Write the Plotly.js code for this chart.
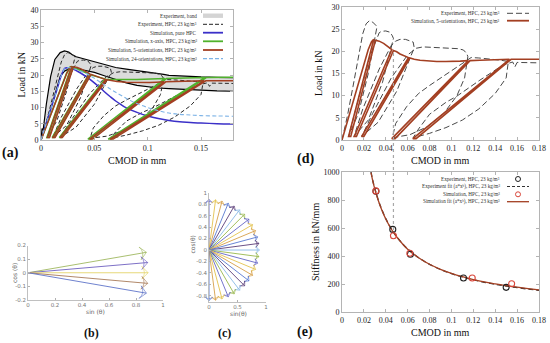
<!DOCTYPE html>
<html><head><meta charset="utf-8">
<script src="https://cdn.plot.ly/plotly-3.0.1.min.js"></script>
<style>html,body{margin:0;padding:0;background:#fff}#chart{width:550px;height:343px}</style>
</head><body><div id="chart"></div>
<script>
// ===== DATA =====
// Panel (a) – experiment band
const bandUpperX = [0, 0.001, 0.002, 0.005, 0.009, 0.013, 0.018, 0.022, 0.026, 0.029, 0.033, 0.04, 0.047, 0.055, 0.062, 0.07, 0.08, 0.09, 0.1, 0.11, 0.115, 0.12, 0.135, 0.15, 0.165, 0.18];
const bandUpperY = [0, 3.5, 3.0, 11, 19.5, 24.8, 26.9, 27.4, 27.1, 26.3, 25.6, 25.0, 24.5, 23.8, 23.0, 22.3, 21.8, 21.4, 21.0, 20.5, 20.2, 19.9, 19.6, 19.4, 19.3, 19.2];
const bandLowerX = [0, 0.005, 0.01, 0.014, 0.018, 0.022, 0.027, 0.033, 0.04, 0.05, 0.06, 0.07, 0.08, 0.09, 0.1, 0.11, 0.12, 0.135, 0.15, 0.165, 0.18];
const bandLowerY = [0, 5, 10.5, 15, 19.5, 21.2, 22.0, 22.0, 21.5, 20.8, 19.7, 18.6, 17.6, 16.8, 16.3, 16.0, 15.8, 15.5, 15.3, 15.1, 15.0];

// Experiment, HPC, 23 kg/m3 (cyclic, dashed) – panels (a) and (d)
const expX = [0, 0.005, 0.01, 0.015, 0.019, 0.022, 0.025, 0.028, 0.030, 0.032,
  0.024, 0.015, 0.006,
  0.014, 0.025, 0.034,
  0.036, 0.040, 0.044, 0.046, 0.047,
  0.037, 0.024, 0.011,
  0.019, 0.034, 0.045, 0.049,
  0.053, 0.058, 0.062, 0.065, 0.066,
  0.050, 0.033, 0.018,
  0.028, 0.045, 0.060, 0.068,
  0.074, 0.085, 0.100, 0.106, 0.111, 0.114, 0.115,
  0.112, 0.105, 0.093, 0.078, 0.062, 0.046,
  0.049, 0.059, 0.070, 0.080, 0.092, 0.102, 0.110, 0.118,
  0.125, 0.135, 0.145, 0.152,
  0.150, 0.140, 0.125, 0.110, 0.095, 0.080, 0.065,
  0.070, 0.080, 0.095, 0.105, 0.126, 0.147, 0.156,
  0.158, 0.160, 0.170, 0.180];
const expY = [0, 5.5, 12, 19, 24, 26.2, 26.9, 26.6, 26.0, 25.6,
  15, 6, 0.8,
  8, 18.5, 24.2,
  24.5, 24.6, 24.3, 23.5, 22.9,
  13, 4.5, 0.8,
  7, 16, 21.3, 22.3,
  22.7, 22.7, 22.4, 22.1, 20.8,
  11, 4, 0.8,
  6, 14, 19.2, 20.7,
  21.0, 20.9, 20.8, 20.6, 20.3, 19.5, 18.8,
  14, 10, 6, 3, 1.2, 0.5,
  3.7, 7.5, 10.5, 12.3, 14.3, 15.8, 17.2, 18.6,
  18.5, 18.3, 18.0, 17.7,
  14, 10.5, 7, 4.5, 2.8, 1.5, 0.5,
  2.5, 5.8, 8.5, 9.9, 13.5, 16.9, 17.6,
  16.5, 17.5, 17.4, 17.4];

// Simulation, 5-orientations (panels (a) and (d))
const sim5X = [0, 0.012, 0.024, 0.027, 0.029, 0.006, 0.008, 0.0305, 0.034, 0.038, 0.042, 0.0455, 0.0112, 0.0132, 0.047, 0.050, 0.053, 0.057, 0.0607, 0.018, 0.020, 0.062, 0.066, 0.0713, 0.080, 0.0865, 0.095, 0.1017, 0.108, 0.1154, 0.0455, 0.0485, 0.117, 0.126, 0.135, 0.145, 0.153, 0.0647, 0.0677, 0.1545, 0.165, 0.18];
const sim5Y = [0, 10.2, 20.4, 22.2, 22.7, 0.8, 0.8, 22.5, 22.3, 21.8, 21.1, 20.4, 0.8, 0.8, 20.2, 19.9, 19.4, 19.0, 18.6, 0.8, 0.8, 18.5, 18.2, 18.0, 17.8, 17.7, 17.7, 17.7, 17.8, 17.9, 0.3, 0.3, 17.9, 18.0, 18.1, 18.2, 18.2, 0.3, 0.3, 18.2, 18.2, 18.2];

// Simulation, x-axis
const simXaxisX = [0, 0.012, 0.024, 0.027, 0.0285, 0.0055, 0.0075, 0.030, 0.035, 0.040, 0.045, 0.0105, 0.0125, 0.0465, 0.052, 0.056, 0.060, 0.0172, 0.0192, 0.0615, 0.070, 0.080, 0.090, 0.100, 0.110, 0.116, 0.0440, 0.0470, 0.1175, 0.130, 0.140, 0.1535, 0.0630, 0.0660, 0.155, 0.165, 0.18];
const simXaxisY = [0, 10.3, 20.6, 22.4, 22.6, 0.8, 0.8, 22.4, 21.8, 21.0, 20.3, 0.8, 0.8, 20.1, 19.5, 19.1, 18.8, 0.8, 0.8, 18.7, 18.6, 18.6, 18.6, 18.7, 18.8, 18.9, 0.3, 0.3, 18.9, 19.0, 19.1, 19.2, 0.3, 0.3, 19.2, 19.3, 19.3];

// Simulation, pure HPC
const pureX = [0, 0.005, 0.01, 0.015, 0.019, 0.0225, 0.026, 0.03, 0.035, 0.04, 0.045, 0.05, 0.055, 0.06, 0.065, 0.07, 0.075, 0.08, 0.09, 0.1, 0.11, 0.12, 0.13, 0.14, 0.15, 0.165, 0.18];
const pureY = [0, 5.2, 10.4, 15.5, 19.8, 22.1, 22.2, 21.8, 21.0, 20.0, 18.9, 17.6, 16.2, 14.7, 13.3, 12.0, 10.9, 9.9, 8.5, 7.4, 6.6, 6.0, 5.6, 5.4, 5.2, 5.0, 4.9];

// Simulation, 24-orientations
const sim24X = [0, 0.005, 0.01, 0.015, 0.019, 0.0225, 0.026, 0.03, 0.035, 0.04, 0.045, 0.05, 0.055, 0.06, 0.065, 0.07, 0.08, 0.09, 0.1, 0.11, 0.12, 0.13, 0.14, 0.15, 0.165, 0.18];
const sim24Y = [0, 5.2, 10.4, 15.5, 19.8, 22.0, 22.3, 22.0, 21.5, 20.8, 20.0, 19.0, 17.9, 16.8, 15.7, 14.7, 12.8, 11.2, 10.0, 9.0, 8.3, 7.9, 7.7, 7.5, 7.4, 7.3];

// Panel (e) – stiffness
const stiffExpX = [0.031, 0.0464, 0.0625, 0.111, 0.150];
const stiffExpY = [862, 590, 412, 243, 176];
const stiffSimX = [0.031, 0.047, 0.062, 0.119, 0.155];
const stiffSimY = [865, 545, 420, 243, 202];
const fitX = [0.0265, 0.028, 0.03, 0.033, 0.036, 0.04, 0.045, 0.05, 0.055, 0.06, 0.07, 0.08, 0.09, 0.1, 0.11, 0.12, 0.13, 0.14, 0.15, 0.16, 0.17, 0.18];
const fitExpY = [1000, 943, 882, 804, 739, 667, 595, 537, 490, 450, 388, 340, 304, 274, 250, 230, 212, 198, 185, 174, 164, 155];
const fitSimY = [995, 940, 878, 800, 736, 664, 593, 536, 489, 449, 388, 341, 305, 276, 252, 232, 215, 201, 188, 177, 167, 158];

// marked unloading point linking (d) and (e)
const markCMOD = 0.047, markLoad = 20.3, markStiff = 585;

// Panel (b) – 5 orientations (arrow tips)
const bSin = [0.877, 0.887, 0.89, 0.887, 0.877];
const bCos = [0.15, 0.075, 0, -0.078, -0.15];
// Panel (c) – orientations (angle from the cos axis, degrees) and arrow length
const cThetaDeg = [0, 7.5, 15, 22.5, 30, 37.5, 45, 52.5, 60, 67.5, 75, 82.5, 90, 97.5, 105, 112.5, 120, 127.5, 135, 142.5, 150, 157.5, 165, 172.5, 180];
const cLength = 0.885;

// tick labels
const aTickVals = [0, 0.05, 0.1, 0.15], aTickText = ['0', '0.05', '0.1', '0.15'];
const loadTicks40 = [0, 5, 10, 15, 20, 25, 30, 35, 40];
const dTickVals = [0, 0.02, 0.04, 0.06, 0.08, 0.1, 0.12, 0.14, 0.16, 0.18];
const dTickText = ['0', '0.02', '0.04', '0.06', '0.08', '0.1', '0.12', '0.14', '0.16', '0.18'];
const loadTicks30 = [0, 5, 10, 15, 20, 25, 30];
const stiffTicks = [0, 200, 400, 600, 800, 1000];
const bXTicks = [0, 0.2, 0.4, 0.6, 0.8, 1], bXText = ['0', '0.2', '0.4', '0.6', '0.8', '1'];
const bYTicks = [-0.2, -0.1, 0, 0.1, 0.2], bYText = ['-0.2', '-0.1', '0', '0.1', '0.2'];
const cXTicks = [0, 0.5, 1], cXText = ['0', '0.5', '1'];
const cYTicks = [-0.8, -0.6, -0.4, -0.2, 0, 0.2, 0.4, 0.6, 0.8, 1];
const cYText = ['-0.8', '-0.6', '-0.4', '-0.2', '0', '0.2', '0.4', '0.6', '0.8', '1'];

// ===== STYLE =====
const W = 550, H = 343;
const SERIF = 'Liberation Serif, Times New Roman, serif';
const SANS = 'DejaVu Sans, Liberation Sans, sans-serif';
const BROWN = '#a33f22', GREEN = '#4fb22c', BLUE = '#3b30c8', LBLUE = '#7db3e6', EXPC = '#2a2a2a';
const bColors = ['#9fb860', '#6e60c0', '#e3d46a', '#a87a58', '#5f74c8'];
const cColors = ['#6565c6', '#e3c24e', '#d69f48', '#5878d0', '#5a3c78', '#88b8e6', '#98b84c'];
const px = v => v / W, py = v => 1 - v / H;

const dom = {
  a: {x: [px(41), px(233)], y: [py(140), py(10)]},
  b: {x: [px(28), px(163)], y: [py(300), py(245.5)]},
  c: {x: [px(209), px(266)], y: [py(301.6), py(192.7)]},
  d: {x: [px(342), px(539)], y: [py(140), py(7)]},
  e: {x: [px(342), px(539)], y: [py(312), py(172)]}
};

function gnuAxis(o) {
  return Object.assign({showline: true, linecolor: '#b4b4b4', linewidth: 1, mirror: 'ticks', ticks: 'inside',
    ticklen: 3, tickcolor: '#b4b4b4', tickfont: {family: SERIF, size: 8, color: '#222'},
    showgrid: false, zeroline: false, fixedrange: true, tickmode: 'array'}, o);
}
function matAxis(o) {
  return Object.assign({showline: true, linecolor: '#b0b0b0', linewidth: 0.8, mirror: false, ticks: 'inside',
    ticklen: 2, tickcolor: '#b0b0b0', tickfont: {family: SANS, size: 5.5, color: '#777'},
    showgrid: false, zeroline: false, fixedrange: true, tickmode: 'array'}, o);
}

const traces = [];
// (a)
traces.push({x: bandUpperX.concat(bandLowerX.slice().reverse()), y: bandUpperY.concat(bandLowerY.slice().reverse()),
  xaxis: 'x', yaxis: 'y', mode: 'lines', fill: 'toself', fillcolor: '#dcdcdc', line: {width: 0}, hoverinfo: 'skip'});
traces.push({x: bandUpperX, y: bandUpperY, xaxis: 'x', yaxis: 'y', mode: 'lines', line: {color: '#000', width: 1.2}});
traces.push({x: bandLowerX, y: bandLowerY, xaxis: 'x', yaxis: 'y', mode: 'lines', line: {color: '#000', width: 1.2}});
traces.push({x: expX, y: expY, xaxis: 'x', yaxis: 'y', mode: 'lines', line: {color: EXPC, width: 1, dash: '4px,2.5px'}});
traces.push({x: pureX, y: pureY, xaxis: 'x', yaxis: 'y', mode: 'lines', line: {color: BLUE, width: 1.5, shape: 'spline'}});
traces.push({x: simXaxisX, y: simXaxisY, xaxis: 'x', yaxis: 'y', mode: 'lines', line: {color: GREEN, width: 1.5}});
traces.push({x: sim5X, y: sim5Y, xaxis: 'x', yaxis: 'y', mode: 'lines', line: {color: BROWN, width: 1.5}});
traces.push({x: sim24X, y: sim24Y, xaxis: 'x', yaxis: 'y', mode: 'lines', line: {color: LBLUE, width: 1.1, dash: '4px,2.5px', shape: 'spline'}});
// (d)
traces.push({x: expX, y: expY, xaxis: 'x4', yaxis: 'y4', mode: 'lines', line: {color: '#333', width: 0.9, dash: '6px,3px'}});
traces.push({x: sim5X, y: sim5Y, xaxis: 'x4', yaxis: 'y4', mode: 'lines', line: {color: BROWN, width: 1.6}});
// (e)
traces.push({x: fitX, y: fitExpY, xaxis: 'x5', yaxis: 'y5', mode: 'lines', line: {color: '#333', width: 1.3, dash: '5px,3px', shape: 'spline'}});
traces.push({x: fitX, y: fitSimY, xaxis: 'x5', yaxis: 'y5', mode: 'lines', line: {color: BROWN, width: 1.3, shape: 'spline'}});
traces.push({x: stiffExpX, y: stiffExpY, xaxis: 'x5', yaxis: 'y5', mode: 'markers', cliponaxis: false,
  marker: {symbol: 'circle-open', size: 6, color: '#222', line: {width: 1.1}}});
traces.push({x: stiffSimX, y: stiffSimY, xaxis: 'x5', yaxis: 'y5', mode: 'markers', cliponaxis: false,
  marker: {symbol: 'circle-open', size: 6, color: '#d9463a', line: {width: 1.1}}});

// (b),(c) arrows: line from origin to tip, arrow head marker oriented along the shaft
function arrowTrace(xa, ya, tx, ty, color, head) {
  return {x: [0, tx], y: [0, ty], xaxis: xa, yaxis: ya, mode: 'lines+markers', cliponaxis: false,
    line: {color: color, width: 0.9},
    marker: {symbol: ['circle', 'arrow-wide-open'], size: [0, head], color: color, angleref: 'previous', line: {width: 0.9, color: color}}};
}
bSin.forEach((s, i) => traces.push(arrowTrace('x2', 'y2', s, bCos[i], bColors[i], 9)));
cThetaDeg.forEach((t, i) => {
  const r = t * Math.PI / 180;
  traces.push(arrowTrace('x3', 'y3', cLength * Math.sin(r), cLength * Math.cos(r), cColors[i % cColors.length], 5));
});

const annotations = [];
const shapes = [];

function txt(x, y, text, o) {
  annotations.push(Object.assign({xref: 'paper', yref: 'paper', x: px(x), y: py(y), text: text, showarrow: false,
    xanchor: 'center', yanchor: 'middle', font: {family: SERIF, size: 10, color: '#111'}}, o || {}));
}
function lline(x0, x1, y, color, width, dash) {
  shapes.push({type: 'line', xref: 'paper', yref: 'paper', x0: px(x0), x1: px(x1), y0: py(y), y1: py(y),
    line: {color: color, width: width, dash: dash || 'solid'}});
}

// axis titles
const GF = {family: SANS, size: 6, color: '#666'};
txt(20.5, 75, 'Load in kN', {textangle: -90});
txt(137, 160, 'CMOD in mm');
txt(319, 73, 'Load in kN', {textangle: -90});
txt(440, 160, 'CMOD in mm');
txt(315, 242, 'Stiffness in kN/mm', {textangle: -90});
txt(440, 332, 'CMOD in mm');
txt(95.5, 311.5, 'sin (θ)', {font: GF});
txt(14, 273, 'cos (θ)', {textangle: -90, font: GF});
txt(238, 313.5, 'sin(θ)', {font: GF});
txt(191.5, 245, 'cos(θ)', {textangle: -90, font: GF});

// panel labels
const PL = s => ({font: {family: SERIF, size: s, color: '#111', weight: 700}});
txt(10, 153, '(a)', PL(14));
txt(91, 333, '(b)', PL(12));
txt(224, 333, '(c)', PL(12));
txt(305, 159.5, '(d)', PL(14));
txt(305, 332, '(e)', PL(14));

// legend (a)
const LF = {family: SERIF, size: 5.2, color: '#333'};
const aLeg = [
  ['Experiment, band', 'rect', '#d4d4d4', 0, null],
  ['Experiment, HPC, 23 kg/m³', 'line', '#222', 1, '4px,2px'],
  ['Simulation, pure HPC', 'line', BLUE, 1.8, null],
  ['Simulation, x-axis, HPC, 23 kg/m³', 'line', GREEN, 1.8, null],
  ['Simulation, 5-orientations, HPC, 23 kg/m³', 'line', BROWN, 1.8, null],
  ['Simulation, 24-orientations, HPC, 23 kg/m³', 'line', LBLUE, 1.2, '4px,2px']
];
const aRows = [15.7, 24.3, 32.7, 41.3, 50, 58.7];
aLeg.forEach((e, i) => {
  txt(199, aRows[i], e[0], {xanchor: 'right', font: LF});
  if (e[1] === 'rect') shapes.push({type: 'rect', xref: 'paper', yref: 'paper', x0: px(203), x1: px(223), y0: py(aRows[i] + 2.2), y1: py(aRows[i] - 2.2), fillcolor: e[2], line: {width: 0}});
  else lline(203, 223, aRows[i], e[2], e[3], e[4]);
});
// legend (d)
txt(502, 13.3, 'Experiment, HPC, 23 kg/m³', {xanchor: 'right', font: LF});
lline(507, 529, 13.3, '#333', 0.9, '6px,3px');
txt(502, 20.7, 'Simulation, 5-orientations, HPC, 23 kg/m³', {xanchor: 'right', font: LF});
lline(507, 529, 20.7, BROWN, 1.8);
// legend (e)
const eRows = [179, 186.5, 194.3, 201.7];
txt(502, eRows[0], 'Experiment, HPC, 23 kg/m³', {xanchor: 'right', font: LF});
shapes.push({type: 'circle', xref: 'paper', yref: 'paper', x0: px(515.5), x1: px(520.5), y0: py(eRows[0] + 2.5), y1: py(eRows[0] - 2.5), line: {color: '#222', width: 1}});
txt(502, eRows[1], 'Experiment fit (a*xᵇ), HPC, 23 kg/m³', {xanchor: 'right', font: LF});
lline(507, 529, eRows[1], '#333', 1, '3px,2px');
txt(502, eRows[2], 'Simulation, HPC, 23 kg/m³', {xanchor: 'right', font: LF});
shapes.push({type: 'circle', xref: 'paper', yref: 'paper', x0: px(515.5), x1: px(520.5), y0: py(eRows[2] + 2.5), y1: py(eRows[2] - 2.5), line: {color: '#d9463a', width: 1}});
txt(502, eRows[3], 'Simulation fit (a*xᵇ), HPC, 23 kg/m³', {xanchor: 'right', font: LF});
lline(507, 529, eRows[3], BROWN, 1.3);

// vertical marker line from (d) down into (e)
const dY = v => dom.d.y[0] + v / 30 * (dom.d.y[1] - dom.d.y[0]);
const eY = v => dom.e.y[0] + v / 1000 * (dom.e.y[1] - dom.e.y[0]);
shapes.push({type: 'line', xref: 'x4', yref: 'paper', x0: markCMOD, x1: markCMOD, y0: eY(markStiff), y1: dY(markLoad),
  line: {color: '#a8a8a8', width: 1.2, dash: 'dot'}});

const layout = {
  width: W, height: H, margin: {l: 0, r: 0, t: 0, b: 0}, showlegend: false,
  paper_bgcolor: '#fff', plot_bgcolor: 'rgba(0,0,0,0)', font: {family: SERIF},
  xaxis: gnuAxis({domain: dom.a.x, range: [0, 0.18], anchor: 'y', tickvals: aTickVals, ticktext: aTickText}),
  yaxis: gnuAxis({domain: dom.a.y, range: [0, 40], anchor: 'x', tickvals: loadTicks40}),
  xaxis2: matAxis({domain: dom.b.x, range: [0, 1], anchor: 'y2', tickvals: bXTicks, ticktext: bXText}),
  yaxis2: matAxis({domain: dom.b.y, range: [-0.2, 0.2], anchor: 'x2', tickvals: bYTicks, ticktext: bYText}),
  xaxis3: matAxis({domain: dom.c.x, range: [0, 1], anchor: 'y3', tickvals: cXTicks, ticktext: cXText}),
  yaxis3: matAxis({domain: dom.c.y, range: [-0.9, 1], anchor: 'x3', tickvals: cYTicks, ticktext: cYText}),
  xaxis4: gnuAxis({domain: dom.d.x, range: [0, 0.18], anchor: 'y4', tickvals: dTickVals, ticktext: dTickText}),
  yaxis4: gnuAxis({domain: dom.d.y, range: [0, 30], anchor: 'x4', tickvals: loadTicks30}),
  xaxis5: gnuAxis({domain: dom.e.x, range: [0, 0.18], anchor: 'y5', tickvals: dTickVals, ticktext: dTickText}),
  yaxis5: gnuAxis({domain: dom.e.y, range: [0, 1000], anchor: 'x5', tickvals: stiffTicks}),
  annotations: annotations, shapes: shapes
};
Plotly.newPlot('chart', traces, layout, {staticPlot: true, displayModeBar: false});
</script></body></html>
